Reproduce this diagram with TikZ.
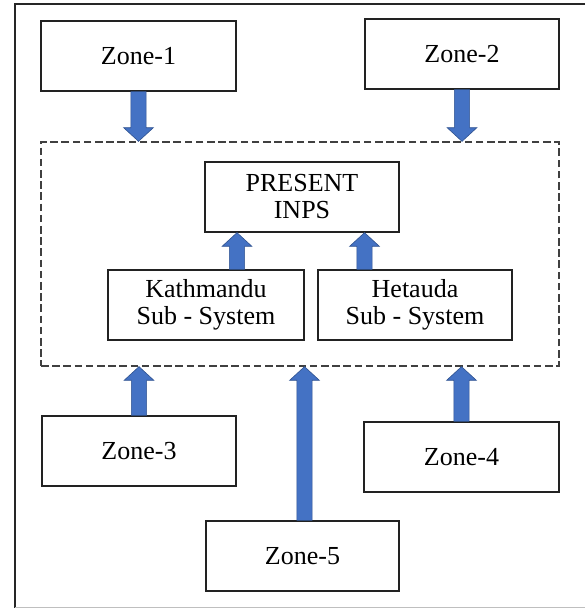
\documentclass[tikz,border=0pt]{standalone}
\usepackage{fontspec}
\setmainfont{Liberation Serif}
\usetikzlibrary{calc}
\definecolor{ablue}{HTML}{4472C4}
\definecolor{aedge}{HTML}{2F528F}
\definecolor{bedge}{HTML}{222222}
\tikzset{
  zbox/.style={draw=bedge, line width=0.65pt, fill=white, inner sep=0pt,
    align=center, font=\fontsize{13}{13.5}\selectfont},
  sysbox/.style={draw=black!75, line width=0.65pt, dash pattern=on 3.8pt off 1.8pt, inner sep=0pt},
  fatstyle/.style={fill=ablue, draw=aedge, line width=0.3pt, line join=miter},
}
\newcommand\fatarrow[2]{%
  \path (#1) coordinate (fa-s) (#2) coordinate (fa-t);
  \path ($(fa-t)!6.8pt!(fa-s)$) coordinate (fa-h);
  \filldraw[fatstyle] ($(fa-s)!3.8pt!90:(fa-t)$) -- ($(fa-h)!3.8pt!-90:(fa-s)$)
    -- ($(fa-h)!7.4pt!-90:(fa-s)$) -- (fa-t) -- ($(fa-h)!7.4pt!90:(fa-s)$)
    -- ($(fa-h)!3.8pt!90:(fa-s)$) -- ($(fa-s)!3.8pt!-90:(fa-t)$) -- cycle;%
}
\begin{document}
\begin{tikzpicture}[x=0.5pt, y=-0.5pt]
\useasboundingbox (0,0) rectangle (585,609);
% outer frame
\draw[line width=0.9pt, black!85] (585,4) -- (15,4) -- (15,608);
\draw[line width=0.9pt, black!25] (15,607.5) -- (585,607.5);
% dashed system box
\node[sysbox, minimum width=259pt, minimum height=112pt] (sys) at (300,254) {};
% zone boxes
\node[zbox, minimum width=97.5pt, minimum height=35pt] (z1) at (138.5,56) {Zone-1};
\node[zbox, minimum width=97pt, minimum height=35pt] (z2) at (462,54) {Zone-2};
\node[zbox, minimum width=97pt, minimum height=35pt] (z3) at (139,451) {Zone-3};
\node[zbox, minimum width=97.5pt, minimum height=35pt] (z4) at (461.5,457) {Zone-4};
\node[zbox, minimum width=96.5pt, minimum height=35pt] (z5) at (302.5,556) {Zone-5};
% inner boxes
\node[zbox, minimum width=97pt, minimum height=35pt] (p) at (302,197) {PRESENT\\INPS};
\node[zbox, minimum width=98pt, minimum height=35pt] (k) at (206,305) {Kathmandu\\Sub - System};
\node[zbox, minimum width=97pt, minimum height=35pt] (h) at (415,305) {Hetauda\\Sub - System};
% arrow positions
\coordinate (ka) at (237,0);
\coordinate (ha) at (364.5,0);
\coordinate (z5a) at (304.5,0);
% arrows
\fatarrow{z1.south}{z1.south |- sys.north}
\fatarrow{z2.south}{z2.south |- sys.north}
\fatarrow{z3.north}{z3.north |- sys.south}
\fatarrow{z4.north}{z4.north |- sys.south}
\fatarrow{z5.north -| z5a}{z5a |- sys.south}
\fatarrow{k.north -| ka}{ka |- p.south}
\fatarrow{h.north -| ha}{ha |- p.south}
\end{tikzpicture}
\end{document}
